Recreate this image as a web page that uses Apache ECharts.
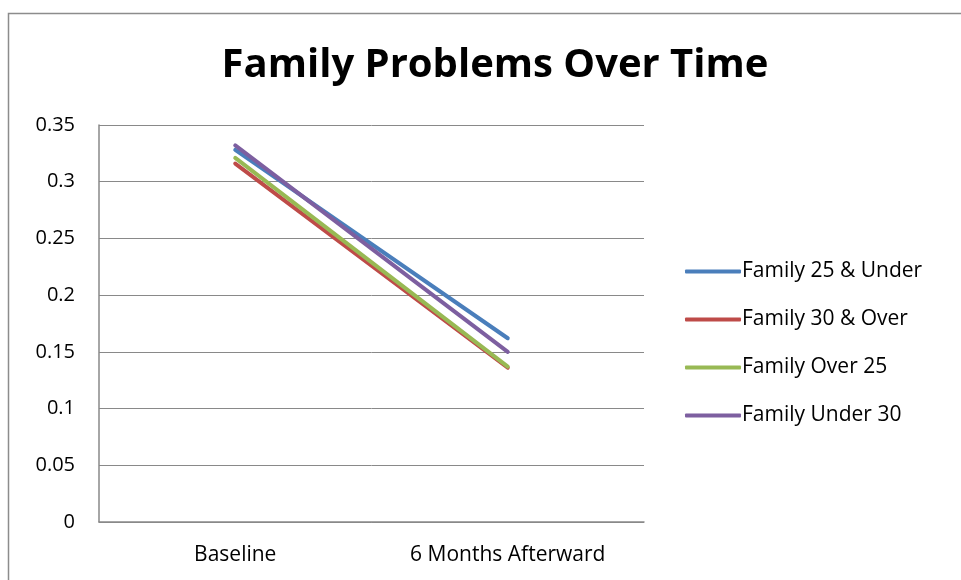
<!DOCTYPE html>
<html>
<head>
<meta charset="utf-8">
<script src="https://cdn.jsdelivr.net/npm/echarts@6/dist/echarts.min.js"></script>
<style>
html, body { margin: 0; padding: 0; background: #fff; }
#chart { width: 961px; height: 580px; }
</style>
</head>
<body>
<div id="chart"></div>
<script>
var categories = ['Baseline', '6 Months Afterward'];
var seriesNames = ['Family 25 & Under', 'Family 30 & Over', 'Family Over 25', 'Family Under 30'];
var family25Under = [0.328, 0.162];
var family30Over = [0.316, 0.136];
var familyOver25 = [0.321, 0.137];
var familyUnder30 = [0.332, 0.150];
var colors = ['#4a7ebb', '#be4b48', '#98b954', '#7d5fa0'];

var font = '"Open Sans", "Noto Sans", sans-serif';
var chart = echarts.init(document.getElementById('chart'));

var seriesData = [family25Under, family30Over, familyOver25, familyUnder30];
var series = seriesNames.map(function (name, i) {
    return {
        name: name,
        type: 'line',
        data: seriesData[i],
        symbol: 'none',
        lineStyle: { width: 4, color: colors[i], cap: 'round' },
        itemStyle: { color: colors[i] }
    };
});

var option = {
    animation: false,
    backgroundColor: '#fff',
    graphic: [{
        type: 'rect',
        shape: { x: 8.5, y: 13.5, width: 1000, height: 600 },
        style: { fill: 'none', stroke: '#8c8c8c', lineWidth: 1.5 },
        silent: true
    }],
    title: {
        text: 'Family Problems Over Time',
        left: 490,
        textAlign: 'center',
        top: 41,
        textStyle: { fontFamily: font, fontWeight: 'bold', fontSize: 40, color: '#000' }
    },
    legend: {
        orient: 'vertical',
        left: 680,
        top: 256,
        itemWidth: 56,
        itemHeight: 4,
        itemGap: 27,
        icon: 'roundRect',
        textStyle: { fontFamily: font, fontSize: 21, color: '#000', padding: [0, 0, 0, -4] },
        data: seriesNames
    },
    grid: { left: 99, top: 125, width: 545, height: 397, containLabel: false },
    xAxis: {
        type: 'category',
        data: categories,
        boundaryGap: true,
        axisLine: { lineStyle: { color: '#898989', width: 1.5 } },
        axisTick: { show: false },
        axisLabel: { fontFamily: font, fontSize: 21, color: '#000', margin: 23 }
    },
    yAxis: {
        type: 'value',
        min: 0,
        max: 0.35,
        interval: 0.05,
        axisLine: { show: true, lineStyle: { color: '#898989', width: 1.5 } },
        axisTick: { show: false },
        splitLine: { lineStyle: { color: '#898989', width: 1 } },
        axisLabel: {
            fontFamily: font, fontSize: 20, color: '#000', margin: 24,
            formatter: function (v) { return String(parseFloat(v.toFixed(2))); }
        }
    },
    series: series
};
chart.setOption(option);
</script>
</body>
</html>
